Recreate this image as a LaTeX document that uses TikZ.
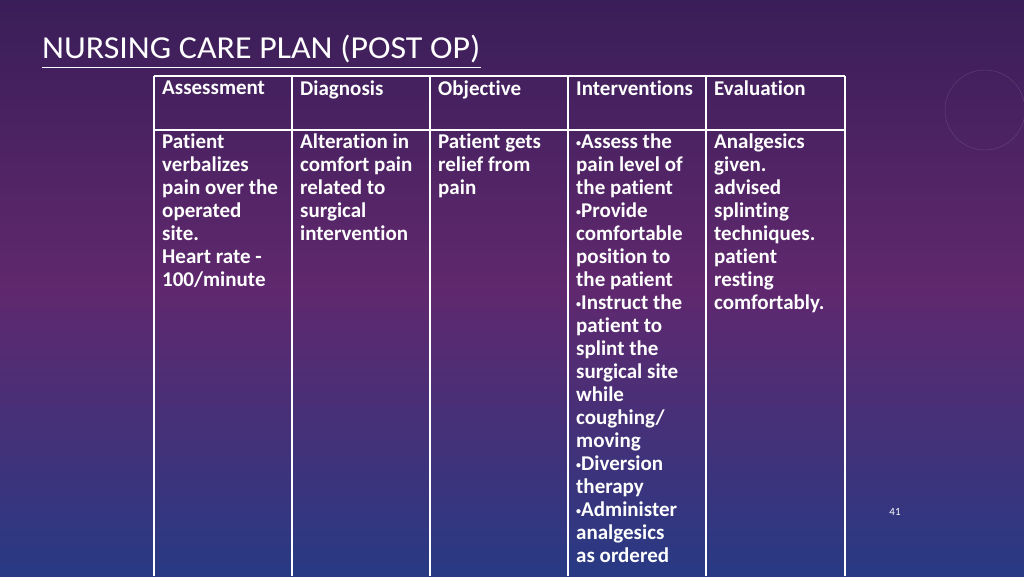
\documentclass[tikz,border=0pt]{standalone}
\usepackage{fontspec}
\setmainfont{Carlito}[Ligatures={NoCommon}]
\definecolor{bgtop}{RGB}{58,30,88}
\definecolor{bgmid}{RGB}{96,40,110}
\definecolor{bgbot}{RGB}{40,58,132}
\newcommand{\bul}{\raisebox{0.25ex}{\fontsize{10}{10}\selectfont\textbullet}}
\begin{document}
\begin{tikzpicture}[x=1pt,y=-1pt,
  cell/.style={anchor=north west,inner sep=0pt,align=left,text=white,font=\fontsize{21}{23}\selectfont\bfseries},
  grid/.style={white,line width=1.2pt}]
\useasboundingbox (0,0) rectangle (1024,576);
\shade[top color=bgtop, bottom color=bgbot, middle color=bgmid] (0,0) rectangle (1024,576);
\draw[white,opacity=0.15] (985,110) circle (40);
\node[anchor=south west,inner sep=0pt,text=white,font=\fontsize{32}{34}\selectfont] (title) at (42,63) {\addfontfeatures{FakeStretch=1.06}NURSING CARE PLAN (POST OP)};
\draw[white,line width=1pt] ([yshift=-4pt]title.south west) -- ([yshift=-4pt]title.south east);
\foreach \x in {154,292,430,568,706,845} \draw[grid] (\x,76) -- (\x,576);
\draw[grid] (154,76) -- (845,76);
\draw[grid] (154,130) -- (845,130);
\node[cell] (h1) at (162,81) {Assessment};
\node[cell] (h2) at (300,81) {Diagnosis};
\node[cell] (h3) at (438,81) {Objective};
\node[cell] (h4) at (576,81) {Interventions};
\node[cell] (h5) at (714,81) {Evaluation};
\node[cell] (c1) at (162,134) {Patient\\verbalizes\\pain over the\\operated\\site.\\Heart rate -\\100/minute};
\node[cell] (c2) at (300,134) {Alteration in\\comfort pain\\related to\\surgical\\intervention};
\node[cell] (c3) at (438,134) {Patient gets\\relief from\\pain};
\node[cell] (c4) at (576,134) {\bul Assess the\\pain level of\\the patient\\\bul Provide\\comfortable\\position to\\the patient\\\bul Instruct the\\patient to\\splint the\\surgical site\\while\\coughing/\\moving\\\bul Diversion\\therapy\\\bul Administer\\analgesics\\as ordered};
\node[cell] (c5) at (714,134) {Analgesics\\given.\\advised\\splinting\\techniques.\\patient\\resting\\comfortably.};
\node[text=white,font=\fontsize{11}{13}\selectfont] (pg) at (895,512) {41};
\end{tikzpicture}
\end{document}
